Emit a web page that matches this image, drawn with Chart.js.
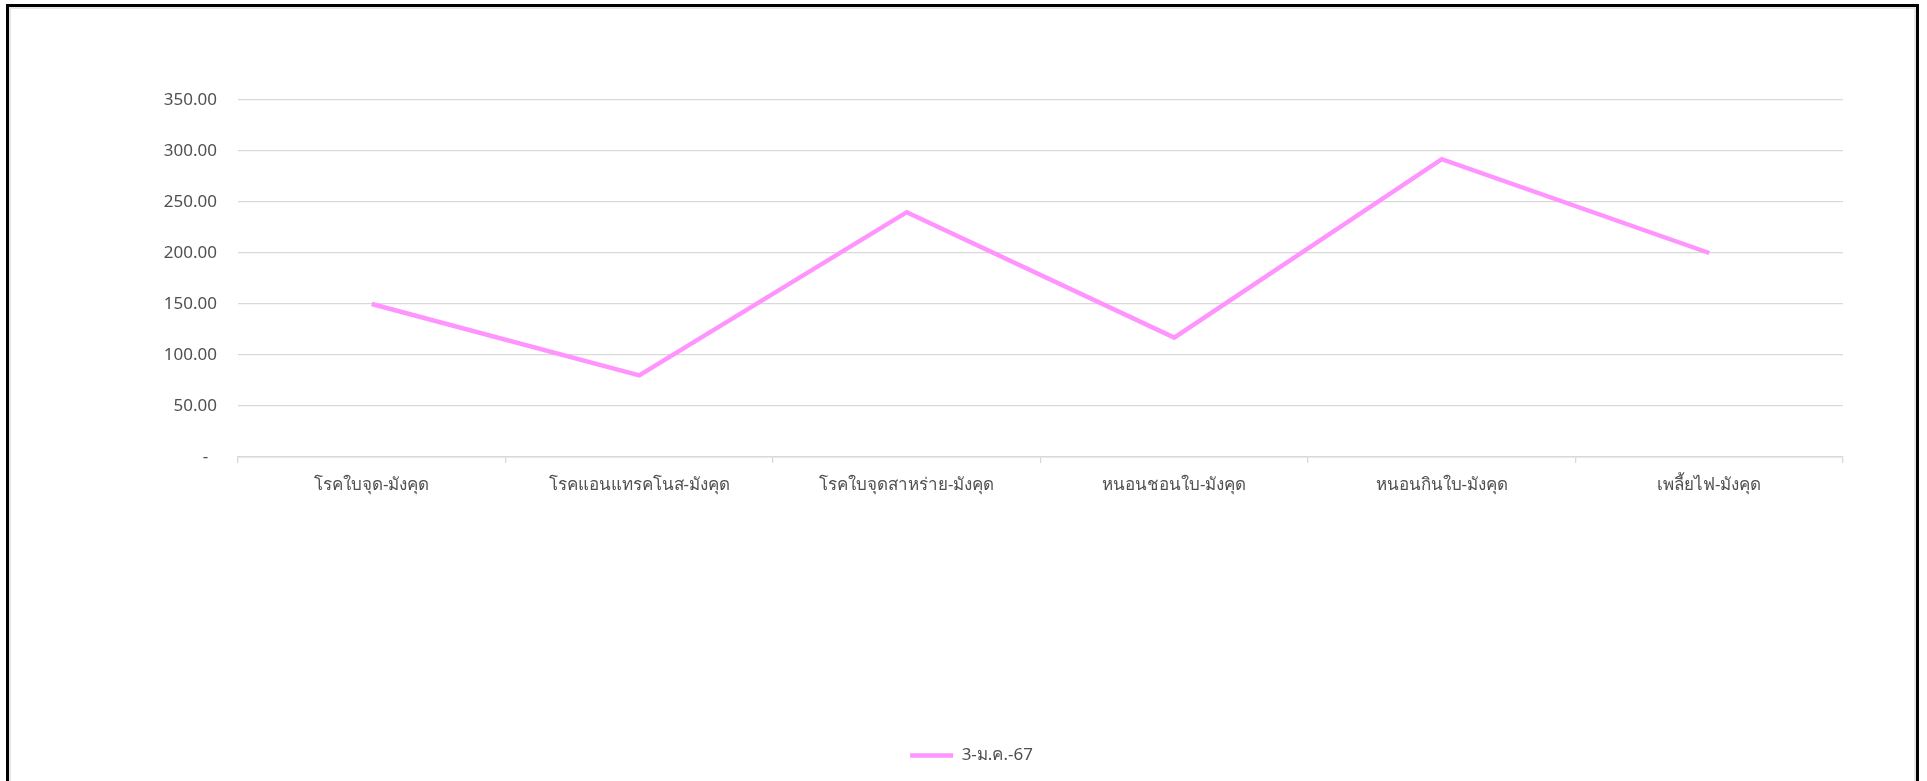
<!DOCTYPE html>
<html>
<head>
<meta charset="utf-8">
<script src="https://cdn.jsdelivr.net/npm/chart.js@4/dist/chart.umd.min.js"></script>
<style>
  html, body { margin: 0; padding: 0; background: #fff; overflow: hidden; }
  #frame {
    position: absolute; left: 6px; top: 4px; width: 1907px; height: 800px;
    border: 3px solid #000; border-bottom: none;
    box-shadow: inset 0 0 0 2px #e6e6e6;
  }
  #wrap { position: absolute; left: 0; top: 0; width: 1927px; height: 781px; }
</style>
</head>
<body>
<div id="frame"></div>
<div id="wrap"><canvas id="chart"></canvas></div>
<script>
const categories = [
  'โรคใบจุด-มังคุด',
  'โรคแอนแทรคโนส-มังคุด',
  'โรคใบจุดสาหร่าย-มังคุด',
  'หนอนชอนใบ-มังคุด',
  'หนอนกินใบ-มังคุด',
  'เพลี้ยไฟ-มังคุด',
];
const seriesName = '3-ม.ค.-67';
const seriesValues = [150, 80, 240, 117, 292, 200];
const yTicks = [0, 50, 100, 150, 200, 250, 300, 350];

const PINK = '#FF94FF';
const GRID = '#d9d9d9';
const TEXT = '#505050';
const FONT = "Tahoma, 'Noto Sans', sans-serif";

new Chart(document.getElementById('chart').getContext('2d'), {
  type: 'line',
  data: {
    labels: categories,
    datasets: [{
      label: seriesName,
      data: seriesValues,
      borderColor: PINK,
      backgroundColor: PINK,
      borderWidth: 4.5,
      pointRadius: 0,
      tension: 0,
      pointStyle: 'line',
    }],
  },
  options: {
    responsive: true,
    maintainAspectRatio: false,
    animation: false,
    layout: { padding: { top: 100, right: 84, bottom: 7, left: 100 } },
    plugins: {
      tooltip: { enabled: false },
      legend: {
        position: 'bottom',
        labels: {
          usePointStyle: true,
          pointStyleWidth: 43,
          color: TEXT,
          font: { family: FONT, size: 17 },
          padding: 10,
        },
      },
    },
    scales: {
      x: {
        offset: true,
        grid: { offset: true, drawOnChartArea: false, color: GRID, tickLength: 6, lineWidth: 1.3 },
        border: { color: GRID, width: 1.5 },
        ticks: { color: TEXT, font: { family: FONT, size: 17 }, padding: 12, maxRotation: 0 },
        afterFit(scale) { scale.height = 280; },
      },
      y: {
        min: 0,
        max: 350,
        afterBuildTicks(scale) { scale.ticks = yTicks.map((value) => ({ value })); },
        grid: { color: GRID, lineWidth: 1.3, drawTicks: false },
        border: { display: false },
        ticks: {
          color: TEXT,
          font: { family: FONT, size: 17 },
          padding: 21,
          callback: (v) => (v === 0 ? '-  ' : v.toFixed(2)),
        },
        afterFit(scale) { scale.width = 138; },
      },
    },
  },
});
</script>
</body>
</html>
